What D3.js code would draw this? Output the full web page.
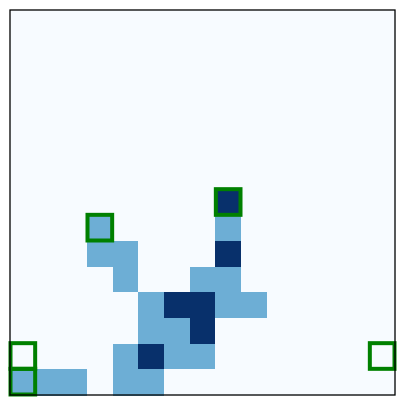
<!DOCTYPE html>
<html>
<head>
<meta charset="utf-8">
<script src="https://cdn.jsdelivr.net/npm/d3@7"></script>
<style>
html,body{margin:0;padding:0;background:#fff;}
svg{display:block;}
</style>
</head>
<body>
<svg id="chart" width="405" height="405"></svg>
<script>
// grid size
const nRows = 15;
const nCols = 15;
// non-zero cells: [row, col, value] (row 0 at top)
const cells = [
  [7, 8, 2],
  [8, 3, 1], [8, 8, 1],
  [9, 3, 1], [9, 4, 1], [9, 8, 2],
  [10, 4, 1], [10, 7, 1], [10, 8, 1],
  [11, 5, 1], [11, 6, 2], [11, 7, 2], [11, 8, 1], [11, 9, 1],
  [12, 5, 1], [12, 6, 1], [12, 7, 2],
  [13, 4, 1], [13, 5, 2], [13, 6, 1], [13, 7, 1],
  [14, 0, 1], [14, 1, 1], [14, 2, 1], [14, 4, 1], [14, 5, 1]
];
// highlighted cells: [row, col]
const highlights = [[7, 8], [8, 3], [13, 0], [14, 0], [13, 14]];

const grid = [];
for (let r = 0; r < nRows; r++) for (let c = 0; c < nCols; c++) grid.push({r, c, v: 0});
cells.forEach(([r, c, v]) => { grid[r * nCols + c].v = v; });

const mLeft = 10, mTop = 10, plotSize = 385;
const svg = d3.select("#chart");
const x = d3.scaleBand().domain(d3.range(nCols)).range([mLeft, mLeft + plotSize]);
const y = d3.scaleBand().domain(d3.range(nRows)).range([mTop, mTop + plotSize]);
const color = d3.scaleSequential(d3.interpolateBlues).domain([0, 2]);

svg.append("g").attr("shape-rendering", "crispEdges")
  .selectAll("rect").data(grid).join("rect")
  .attr("x", d => x(d.c)).attr("y", d => y(d.r))
  .attr("width", x.bandwidth() + 0.5).attr("height", y.bandwidth() + 0.5)
  .attr("fill", d => color(d.v));

svg.append("g").selectAll("rect").data(highlights).join("rect")
  .attr("x", d => x(d[1]) + 0.5).attr("y", d => y(d[0]) - 0.5)
  .attr("width", x.bandwidth() - 1).attr("height", y.bandwidth())
  .attr("fill", "none").attr("stroke", "#008000").attr("stroke-width", 4);

svg.append("rect").attr("x", mLeft).attr("y", mTop).attr("width", plotSize).attr("height", plotSize)
  .attr("fill", "none").attr("stroke", "#000").attr("stroke-width", 1.3);
</script>
</body>
</html>
